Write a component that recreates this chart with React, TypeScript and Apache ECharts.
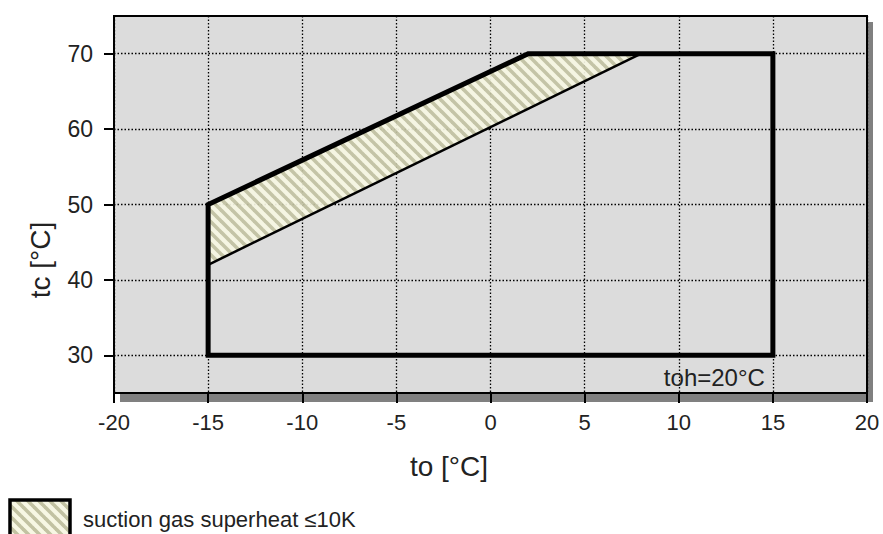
import React, { useEffect, useRef } from 'react';
import * as echarts from 'echarts';

// Axes
const xMin = -20;
const xMax = 20;
const xStep = 5;
const yMin = 25;
const yMax = 75;
const yTicks = [30, 40, 50, 60, 70];

// Application envelope (to, tc)
const envelopeTo = [-15, -15, 2, 15, 15];
const envelopeTc = [30, 50, 70, 70, 30];

// Hatched region: suction gas superheat <= 10K
const superheatTo = [-15, 2, 8, -15];
const superheatTc = [50, 70, 70, 42];

// Lower boundary of the hatched region
const lowerLineTo = [-15, 8];
const lowerLineTc = [42, 70];

// Texts
const xName = 'to [°C]';
const yName = 'tc [°C]';
const annotation = 'toh=20°C';
const annotationTo = 15;
const annotationTc = 27;
const legendLabel = 'suction gas superheat ≤10K';

const FONT = '"Liberation Sans", Arial, sans-serif';
const TEXT = '#222';

function makeHatch(): any {
  const size = 11;
  const c = document.createElement('canvas');
  c.width = size;
  c.height = size;
  const ctx = c.getContext('2d')!;
  ctx.fillStyle = '#f7f7e4';
  ctx.fillRect(0, 0, size, size);
  ctx.strokeStyle = '#c2c2a2';
  ctx.lineWidth = 3.6;
  for (const o of [-size, 0, size]) {
    ctx.beginPath();
    ctx.moveTo(o - 1, -1);
    ctx.lineTo(o + size + 1, size + 1);
    ctx.stroke();
  }
  return { image: c.toDataURL(), repeat: 'repeat', imageWidth: size, imageHeight: size };
}

export default function App() {
  const ref = useRef<HTMLDivElement>(null);
  useEffect(() => {
    if (!ref.current) return;
    const chart = echarts.init(ref.current, null, { renderer: 'svg' });
    const hatch = makeHatch();
    const gridLeft = 114;
    const gridTop = 16;
    const gridW = 753;
    const gridH = 377;

    const option: any = {
      animation: false,
      backgroundColor: '#ffffff',
      textStyle: { fontFamily: FONT },
      grid: {
        left: gridLeft,
        top: gridTop,
        width: gridW,
        height: gridH,
        show: true,
        backgroundColor: '#dcdcdc',
        borderColor: '#000',
        borderWidth: 2,
        containLabel: false,
        outerBoundsMode: 'none',
      },
      xAxis: {
        type: 'value',
        min: xMin,
        max: xMax,
        interval: xStep,
        axisLine: { show: true, onZero: false, lineStyle: { color: '#000', width: 2 } },
        axisTick: { show: true, inside: false, length: 10, lineStyle: { color: '#000', width: 2 } },
        axisLabel: { color: TEXT, fontSize: 22, fontFamily: FONT, margin: 18 },
        splitLine: { show: true, lineStyle: { color: '#000', width: 1.3, type: [1.5, 2] } },
      },
      yAxis: {
        type: 'value',
        min: yMin,
        max: yMax,
        splitNumber: 5,
        axisLine: { show: true, onZero: false, lineStyle: { color: '#000', width: 2 } },
        axisTick: { show: true, inside: false, length: 10, customValues: yTicks, lineStyle: { color: '#000', width: 2 } },
        axisLabel: {
          color: TEXT,
          fontSize: 23,
          fontFamily: FONT,
          margin: 21,
          customValues: yTicks,
          formatter: (v: number) => (yTicks.indexOf(v) >= 0 ? String(v) : ''),
        },
        splitLine: { show: true, lineStyle: { color: '#000', width: 1.3, type: [1.5, 2] } },
      },
      series: [
        {
          type: 'custom',
          coordinateSystem: 'cartesian2d',
          data: [[envelopeTo[0], envelopeTc[0]]],
          clip: false,
          z: 3,
          renderItem: (params: any, api: any) => {
            const pt = (x: number, y: number) => api.coord([x, y]);
            const hatchPts = superheatTo.map((x, i) => pt(x, superheatTc[i]));
            const envPts = envelopeTo.map((x, i) => pt(x, envelopeTc[i]));
            const lowerPts = lowerLineTo.map((x, i) => pt(x, lowerLineTc[i]));
            const a = pt(annotationTo, annotationTc);
            return {
              type: 'group',
              children: [
                {
                  type: 'polygon',
                  shape: { points: hatchPts },
                  style: { fill: hatch, stroke: null, opacity: 0.92 },
                },
                {
                  type: 'polyline',
                  shape: { points: lowerPts },
                  style: { stroke: '#000', lineWidth: 2.5, fill: null },
                },
                {
                  type: 'polygon',
                  shape: { points: envPts },
                  style: { fill: null, stroke: '#000', lineWidth: 5, lineJoin: 'miter' },
                },
                {
                  type: 'text',
                  x: a[0] - 8,
                  y: a[1],
                  style: {
                    text: annotation,
                    fontSize: 24,
                    fontFamily: FONT,
                    fill: TEXT,
                    align: 'right',
                    verticalAlign: 'middle',
                  },
                },
              ],
            };
          },
        },
      ],
      graphic: [
        {
          type: 'rect',
          z: -1,
          silent: true,
          shape: { x: gridLeft + 6, y: gridTop + 6, width: gridW, height: gridH + 3 },
          style: { fill: '#808080' },
        },
        {
          type: 'text',
          x: 449,
          y: 466,
          style: { text: xName, fontSize: 28, fontFamily: FONT, fill: TEXT, align: 'center', verticalAlign: 'middle' },
        },
        {
          type: 'text',
          x: 40,
          y: 260,
          rotation: Math.PI / 2,
          style: { text: yName, fontSize: 28, fontFamily: FONT, fill: TEXT, align: 'center', verticalAlign: 'middle' },
        },
        {
          type: 'rect',
          shape: { x: 10, y: 500, width: 60, height: 40 },
          style: { fill: hatch, stroke: '#000', lineWidth: 3.5 },
        },
        {
          type: 'text',
          x: 83,
          y: 519,
          style: { text: legendLabel, fontSize: 22, fontFamily: FONT, fill: TEXT, align: 'left', verticalAlign: 'middle' },
        },
      ],
    };
    chart.setOption(option);
    return () => chart.dispose();
  }, []);
  return (
    <div
      ref={ref}
      style={{ position: 'absolute', left: 0, top: 0, width: 883, height: 534 }}
    />
  );
}
